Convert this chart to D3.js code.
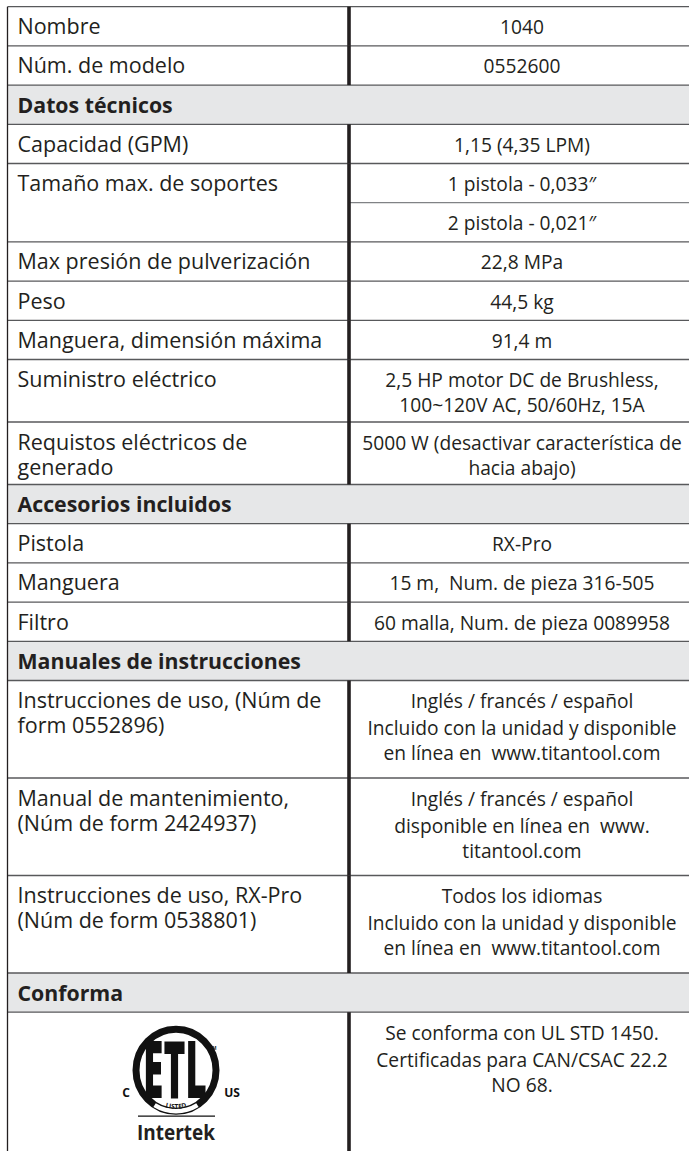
<!DOCTYPE html>
<html><head><meta charset="utf-8">
<script src="https://cdn.jsdelivr.net/npm/d3@7"></script>
<style>
html,body{margin:0;padding:0;background:#fff;}
svg{display:block;}
text{white-space:pre;}
</style></head>
<body><div id="chart"></div>
<script>
// ---- data ----
const generalLabels = ["Nombre", "Núm. de modelo"];
const generalValues = [["1040"], ["0552600"]];

const sectionTitles = ["Datos técnicos", "Accesorios incluidos", "Manuales de instrucciones", "Conforma"];

const techLabels = ["Capacidad (GPM)", "Tamaño max. de soportes", "Max presión de pulverización", "Peso",
  "Manguera, dimensión máxima", "Suministro eléctrico", "Requistos eléctricos de\ngenerado"];
const techValues = [["1,15 (4,35 LPM)"], ["1 pistola - 0,033″", "2 pistola - 0,021″"], ["22,8 MPa"], ["44,5 kg"],
  ["91,4 m"], ["2,5 HP motor DC de Brushless,\n100~120V AC, 50/60Hz, 15A"],
  ["5000 W (desactivar característica de\nhacia abajo)"]];

const accLabels = ["Pistola", "Manguera", "Filtro"];
const accValues = [["RX-Pro"], ["15 m,  Num. de pieza 316-505"], ["60 malla, Num. de pieza 0089958"]];

const manLabels = ["Instrucciones de uso, (Núm de\nform 0552896)", "Manual de mantenimiento,\n(Núm de form 2424937)",
  "Instrucciones de uso, RX-Pro\n(Núm de form 0538801)"];
const manValues = [["Inglés / francés / español\n\nIncluido con la unidad y disponible\nen línea en  www.titantool.com"],
  ["Inglés / francés / español\n\ndisponible en línea en  www.\ntitantool.com"],
  ["Todos los idiomas\n\nIncluido con la unidad y disponible\nen línea en  www.titantool.com"]];

const confLabels = ["@logo"];
const confValues = [["Se conforma con UL STD 1450.\n\nCertificadas para CAN/CSAC 22.2\nNO 68."]];

// ---- layout ----
const W = 689, H = 1151;
const X0 = 7.5, XD = 349, XR = 689, TOP = 6.7;
const LEFT_PAD = 17.5, RIGHT_CX = 522;
const BASE_H = 39.2, ROW_LINE = 23.3, ROW_PARA = 11.7;
const FIRST_BASE = 27.5, LINE_GAP = 25, PARA_GAP = 27;
const INK = "#231f20";
const FONT = "'Open Sans', 'Noto Sans', sans-serif";

function parseCell(str) {
  const paras = str.split("\n\n");
  const out = []; let y = FIRST_BASE; let first = true;
  paras.forEach(p => {
    p.split("\n").forEach((ln, li) => {
      if (!first) y += (li === 0 ? PARA_GAP : LINE_GAP);
      out.push({text: ln, dy: y}); first = false;
    });
  });
  return out;
}
function cellHeight(str) {
  const paras = str.split("\n\n");
  const n = str.split("\n").filter(s => s !== "").length;
  return BASE_H + (n - 1) * ROW_LINE + (paras.length - 1) * ROW_PARA;
}

const rows = [];
function addData(labels, values) {
  labels.forEach((lab, i) => rows.push({type: "data", label: lab, cells: values[i]}));
}
addData(generalLabels, generalValues);
rows.push({type: "header", label: sectionTitles[0]}); addData(techLabels, techValues);
rows.push({type: "header", label: sectionTitles[1]}); addData(accLabels, accValues);
rows.push({type: "header", label: sectionTitles[2]}); addData(manLabels, manValues);
rows.push({type: "header", label: sectionTitles[3]}); addData(confLabels, confValues);

let yy = TOP;
rows.forEach((r, i) => {
  r.y = yy;
  if (r.type === "header") r.h = BASE_H;
  else {
    let cy = 0;
    r.cellPos = r.cells.map(c => { const o = {str: c, y: cy, h: cellHeight(c)}; cy += o.h; return o; });
    const lh = r.label === "@logo" ? 0 : cellHeight(r.label);
    r.h = Math.max(cy, lh);
    if (i === rows.length - 1) r.h = H - yy + 20;
  }
  yy += r.h;
});

const svg = d3.select("#chart").append("svg").attr("width", W).attr("height", H)
  .style("font-family", FONT);

// header fills
svg.selectAll("rect.hdr").data(rows.filter(r => r.type === "header")).join("rect")
  .attr("class", "hdr").attr("x", X0).attr("y", d => d.y).attr("width", XR - X0).attr("height", d => d.h)
  .attr("fill", "#e6e7e8");

// horizontal row lines
svg.selectAll("line.h").data(rows.map(r => r.y)).join("line").attr("class", "h")
  .attr("x1", X0).attr("x2", XR).attr("y1", d => d).attr("y2", d => d)
  .attr("stroke", "#58595b").attr("stroke-width", 1.3);

// sub-cell lines (right column only)
const subLines = [];
rows.filter(r => r.type === "data").forEach(r => r.cellPos.forEach((c, k) => { if (k > 0) subLines.push(r.y + c.y); }));
svg.selectAll("line.sub").data(subLines).join("line").attr("class", "sub")
  .attr("x1", XD).attr("x2", XR).attr("y1", d => d).attr("y2", d => d)
  .attr("stroke", "#808285").attr("stroke-width", 1.3);

// divider segments
svg.selectAll("line.div").data(rows.filter(r => r.type === "data")).join("line").attr("class", "div")
  .attr("x1", XD).attr("x2", XD).attr("y1", d => d.y).attr("y2", d => d.y + d.h)
  .attr("stroke", INK).attr("stroke-width", 3.6);

// left border
svg.append("line").attr("x1", X0).attr("x2", X0).attr("y1", TOP).attr("y2", H)
  .attr("stroke", INK).attr("stroke-width", 1.3);

// header text
svg.selectAll("text.hdr").data(rows.filter(r => r.type === "header")).join("text").attr("class", "hdr")
  .attr("x", LEFT_PAD).attr("y", d => d.y + FIRST_BASE)
  .attr("font-weight", 700).attr("font-size", 21.3).attr("fill", INK).text(d => d.label);

// left labels
const leftItems = [];
rows.filter(r => r.type === "data" && r.label !== "@logo").forEach(r =>
  parseCell(r.label).forEach(l => leftItems.push({text: l.text, y: r.y + l.dy})));
svg.selectAll("text.lab").data(leftItems).join("text").attr("class", "lab")
  .attr("x", LEFT_PAD).attr("y", d => d.y)
  .attr("font-size", 21.5).attr("fill", INK).text(d => d.text);

// right values
const rightItems = [];
rows.filter(r => r.type === "data").forEach(r => r.cellPos.forEach(c =>
  parseCell(c.str).forEach(l => rightItems.push({text: l.text, y: r.y + c.y + l.dy}))));
svg.selectAll("text.val").data(rightItems).join("text").attr("class", "val")
  .attr("x", RIGHT_CX).attr("y", d => d.y).attr("text-anchor", "middle")
  .attr("font-size", 19.2).attr("fill", INK).text(d => d.text);

// ETL / Intertek logo
const logoRow = rows[rows.length - 1];
const cx = 176, cy = logoRow.y + 58;
const g = svg.append("g").attr("fill", "#111");
g.append("ellipse").attr("cx", cx).attr("cy", cy).attr("rx", 40).attr("ry", 41)
  .attr("fill", "none").attr("stroke", "#111").attr("stroke-width", 7);
const arcR = 41;
const arcPath = d3.path();
arcPath.arc(cx, cy, arcR, Math.PI * 0.5 + 0.55, Math.PI * 0.5 - 0.55, true);
g.append("path").attr("d", arcPath.toString()).attr("fill", "none").attr("stroke", "#fff").attr("stroke-width", 4.5);
const tp = d3.path();
tp.arc(cx, cy, arcR - 2.5, Math.PI * 0.5 + 0.6, Math.PI * 0.5 - 0.6, true);
svg.append("defs").append("path").attr("id", "listedArc").attr("d", tp.toString());
g.append("text").attr("font-size", 6.5).attr("font-weight", 700).attr("font-family", FONT)
  .append("textPath").attr("href", "#listedArc").attr("startOffset", "50%").attr("text-anchor", "middle")
  .text("LISTED");
g.append("text").attr("x", cx - 1).attr("y", cy + 28).attr("text-anchor", "middle")
  .attr("font-size", 80).attr("font-weight", 800).attr("textLength", 64).attr("lengthAdjust", "spacingAndGlyphs")
  .text("ETL");
g.append("text").attr("x", cx + 37).attr("y", cy - 20).attr("text-anchor", "middle")
  .attr("font-size", 4.5).attr("font-weight", 700).text("CM");
g.append("text").attr("x", cx - 50).attr("y", cy + 27).attr("text-anchor", "middle")
  .attr("font-size", 12).attr("font-weight", 700).text("C");
g.append("text").attr("x", cx + 56).attr("y", cy + 27).attr("text-anchor", "middle")
  .attr("font-size", 12).attr("font-weight", 700).text("US");
g.append("line").attr("x1", cx - 38).attr("x2", cx + 39).attr("y1", cy + 46).attr("y2", cy + 46)
  .attr("stroke", "#111").attr("stroke-width", 1.3);
g.append("text").attr("x", cx).attr("y", cy + 70).attr("text-anchor", "middle")
  .attr("font-size", 21).attr("font-weight", 700).attr("fill", "#231f20")
  .attr("textLength", 78).attr("lengthAdjust", "spacingAndGlyphs").text("Intertek");
</script></body></html>
